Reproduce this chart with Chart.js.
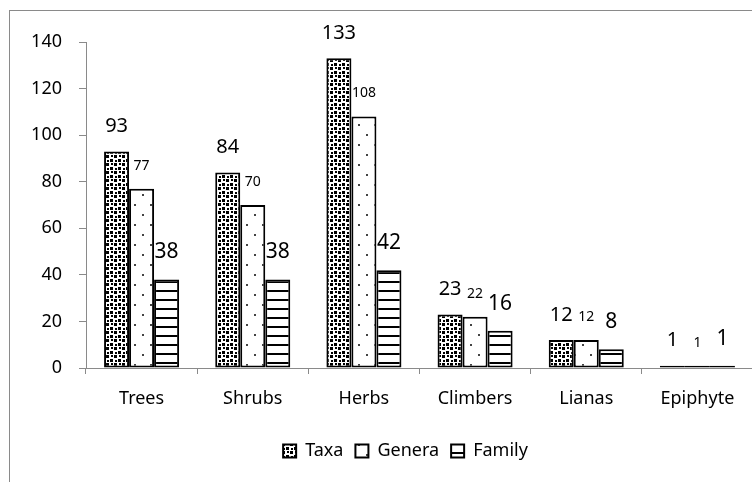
<!DOCTYPE html>
<html>
<head>
<meta charset="utf-8">
<script src="https://cdn.jsdelivr.net/npm/chart.js@4/dist/chart.umd.min.js"></script>
<style>
  html, body { margin: 0; padding: 0; background: #fff; overflow: hidden; width: 752px; height: 482px; }
  #frame { position: absolute; left: 9px; top: 10px; border: 1px solid #8a8a8a; }
  canvas { display: block; }
</style>
</head>
<body>
<div id="frame"><canvas id="chart" width="760" height="472"></canvas></div>
<script>
// valores
const categories = ["Trees", "Shrubs", "Herbs", "Climbers", "Lianas", "Epiphyte"];
const taxa = [93, 84, 133, 23, 12, 1];
const genera = [77, 70, 108, 22, 12, 1];
const family = [38, 38, 42, 16, 8, 1];
const yMin = 0, yMax = 140, yStep = 20;

const FONT = "'Noto Sans', sans-serif";

// patrones de relleno tipo Excel
function makePattern(w, h, draw) {
  const c = document.createElement("canvas");
  c.width = w; c.height = h;
  const g = c.getContext("2d");
  g.fillStyle = "#fff";
  g.fillRect(0, 0, w, h);
  draw(g);
  return document.getElementById("chart").getContext("2d").createPattern(c, "repeat");
}

const confetti = makePattern(8, 8, g => {
  g.fillStyle = "#000";
  g.fillRect(0, 0, 3, 3);
  g.fillRect(4, 4, 3, 3);
  g.fillRect(5, 0, 2, 2);
  g.fillRect(1, 5, 2, 2);
});
const dots = makePattern(16, 20, g => {
  g.fillStyle = "#444";
  g.fillRect(4, 3, 2, 2);
  g.fillRect(12, 13, 2, 2);
});
const stripes = makePattern(8, 9, g => {
  g.fillStyle = "#000";
  g.fillRect(0, 0, 8, 2);
});

const labelStyle = [
  { size: 20, gap: 25 },
  { size: 14, gap: 23 },
  { size: 21, gap: 27 }
];

const valueLabels = {
  id: "valueLabels",
  afterLayout(chart) {
    // la leyenda del original está algo a la derecha
    chart.legend.left += 24;
    chart.legend.right += 24;
  },
  afterDatasetsDraw(chart) {
    const ctx = chart.ctx;
    ctx.save();
    ctx.fillStyle = "#000";
    ctx.textAlign = "center";
    ctx.textBaseline = "middle";
    chart.data.datasets.forEach((ds, i) => {
      const meta = chart.getDatasetMeta(i);
      ctx.font = labelStyle[i].size + "px " + FONT;
      meta.data.forEach((bar, j) => {
        ctx.fillText(ds.data[j], bar.x, bar.y - labelStyle[i].gap);
      });
    });
    ctx.restore();
  }
};

const barStyle = { borderColor: "#000", borderWidth: 2, borderSkipped: false, barPercentage: 1, categoryPercentage: 0.675 };

new Chart(document.getElementById("chart"), {
  type: "bar",
  data: {
    labels: categories,
    datasets: [
      { label: "Taxa", data: taxa, backgroundColor: confetti, ...barStyle },
      { label: "Genera", data: genera, backgroundColor: dots, ...barStyle },
      { label: "Family", data: family, backgroundColor: stripes, ...barStyle }
    ]
  },
  options: {
    responsive: false,
    animation: false,
    layout: { padding: { top: 31, right: 17, bottom: 13, left: 0 } },
    scales: {
      x: {
        afterFit: s => { s.height = 62; },
        grid: { display: true, drawOnChartArea: false, tickLength: 6, color: "#8a8a8a", offset: true },
        border: { color: "#8a8a8a", width: 1 },
        ticks: { color: "#000", padding: 14, font: { family: FONT, size: 18 } }
      },
      y: {
        min: yMin, max: yMax,
        afterFit: s => { s.width = 76; },
        grid: { display: true, drawOnChartArea: false, tickLength: 7, color: "#8a8a8a" },
        border: { color: "#8a8a8a", width: 1 },
        ticks: { stepSize: yStep, color: "#000", padding: 17, font: { family: FONT, size: 18 } }
      }
    },
    plugins: {
      legend: {
        position: "bottom",
        labels: { color: "#000", boxWidth: 13, boxHeight: 13, padding: 12, font: { family: FONT, size: 18 } }
      },
      tooltip: { enabled: false }
    }
  },
  plugins: [valueLabels]
});
</script>
</body>
</html>
